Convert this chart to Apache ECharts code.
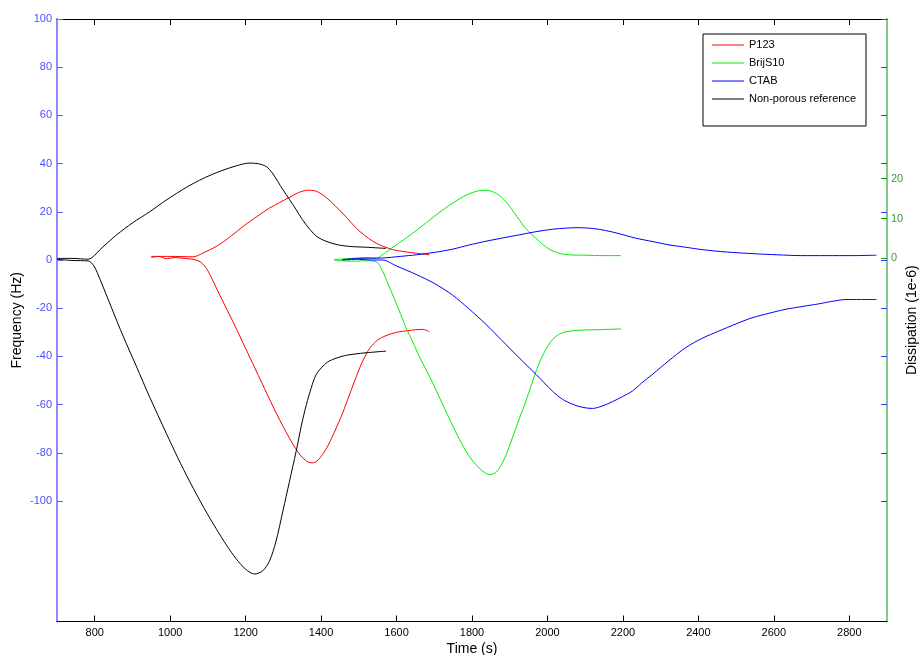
<!DOCTYPE html>
<html>
<head>
<meta charset="utf-8">
<script src="https://cdn.jsdelivr.net/npm/echarts@6/dist/echarts.min.js"></script>
<style>
html,body{margin:0;padding:0;background:#fff;}
#c{width:921px;height:655px;}
</style>
</head>
<body>
<div id="c"></div>
<script>
// ---- tick labels ----
var xTicks = [800,1000,1200,1400,1600,1800,2000,2200,2400,2600,2800];
var freqTicks = [-100,-80,-60,-40,-20,0,20,40,60,80,100];
var dissTicks = [0,10,20];
var legendNames = ['P123','BrijS10','CTAB','Non-porous reference'];

// ---- data: [time (s), value] ----
// Frequency (Hz), left axis
var refFreq = [[700,0.3],[740,-0.2],[783,-0.4],[798,-2.5],[814,-8],[845,-20],[875,-31.5],[910,-44],[946,-57],[990,-72],[1020,-82],[1052,-92],[1090,-103],[1122,-111.5],[1150,-118.5],[1175,-124],[1200,-128.3],[1224,-130.3],[1245,-129],[1263,-125],[1280,-117],[1299,-104],[1316,-92],[1334,-79.3],[1348,-68.5],[1361,-60],[1374,-53],[1387,-47.5],[1405,-44],[1422,-41.9],[1457,-39.9],[1490,-39],[1519,-38.5],[1572,-37.8]];
var p123Freq = [[950,1],[970,1.5],[990,0.5],[1010,1],[1030,0.8],[1050,0.5],[1061,0.3],[1080,-0.8],[1096,-3.5],[1110,-7.5],[1125,-12.5],[1166,-25.5],[1219,-43],[1281,-63.5],[1320,-75],[1345,-81],[1365,-83.8],[1378,-84.2],[1392,-83],[1413,-78.5],[1435,-71.5],[1457,-63.5],[1475,-56],[1493,-48.5],[1510,-42],[1528,-36.8],[1550,-33.2],[1572,-31.4],[1600,-30],[1630,-29.3],[1669,-28.8],[1680,-29.2],[1687,-29.8]];
var brijFreq = [[1435,0],[1480,-0.5],[1520,-0.3],[1546,-0.7],[1563,-4.6],[1575,-9],[1590,-14.5],[1607,-21],[1625,-28],[1643,-34],[1660,-39.9],[1678,-45.5],[1696,-51],[1718,-58.5],[1740,-65.8],[1762,-73],[1784,-79.3],[1800,-83],[1819,-86.3],[1832,-88],[1846,-89],[1860,-88.5],[1872,-86.5],[1890,-81],[1907,-73.8],[1925,-66],[1943,-58.5],[1956,-52.5],[1969,-46.5],[1986,-40],[2004,-35],[2020,-32],[2039,-30.2],[2060,-29.5],[2084,-29.1],[2140,-28.9],[2195,-28.6]];
var ctabFreq = [[1457,0],[1500,0.3],[1530,0],[1563,0],[1600,-2.5],[1652,-6],[1700,-9.7],[1748,-14.5],[1790,-20],[1837,-26.7],[1880,-33.5],[1925,-40.6],[1970,-47.5],[2013,-54.4],[2040,-57.8],[2066,-59.8],[2092,-61.1],[2119,-61.6],[2145,-60.6],[2172,-58.8],[2200,-56.6],[2225,-54.4],[2250,-51],[2278,-47.5],[2320,-42],[2366,-36.4],[2410,-32.5],[2454,-29.5],[2500,-26.5],[2542,-24],[2590,-22],[2630,-20.5],[2675,-19.3],[2719,-18.2],[2760,-17],[2789,-16.4],[2830,-16.4],[2872,-16.4]];
// Dissipation (1e-6), right axis
var refDiss = [[700,0],[740,0],[783,-0.2],[800,0.8],[814,2.2],[835,4],[858,5.9],[900,8.9],[946,11.7],[980,14],[1017,16.3],[1050,18.2],[1078,19.6],[1110,21],[1140,22.1],[1175,23.2],[1211,23.9],[1235,23.7],[1255,23],[1270,21.5],[1285,19.3],[1299,17.2],[1316,14.8],[1334,12.2],[1350,9.8],[1369,7.4],[1390,5.4],[1413,4.3],[1440,3.5],[1475,3],[1520,2.8],[1572,2.5]];
var p123Diss = [[950,0.5],[1000,0.5],[1061,0.4],[1090,1.5],[1122,3],[1160,5.5],[1193,8],[1230,10.5],[1263,12.6],[1290,14],[1316,15.3],[1340,16.5],[1365,17.1],[1385,16.9],[1405,15.9],[1425,14.3],[1449,12.1],[1470,10],[1493,7.6],[1515,5.8],[1537,4.3],[1560,3.2],[1590,2.2],[1620,1.7],[1652,1.3],[1687,0.9]];
var brijDiss = [[1435,-0.3],[1480,0],[1520,0.2],[1546,0.1],[1575,1.8],[1607,3.9],[1640,6.1],[1669,8.2],[1690,9.8],[1713,11.5],[1740,13.3],[1766,14.9],[1790,16.1],[1815,16.9],[1837,17.1],[1860,16.5],[1881,15.1],[1900,13],[1925,9.7],[1945,7.2],[1969,5.1],[1990,3.3],[2013,1.9],[2035,1.2],[2057,0.9],[2100,0.8],[2150,0.7],[2195,0.7]];
var ctabDiss = [[1457,-0.3],[1500,0],[1563,0.1],[1610,0.5],[1652,0.9],[1700,1.5],[1748,2.3],[1790,3.3],[1837,4.3],[1880,5.1],[1925,5.9],[1970,6.7],[2013,7.3],[2050,7.6],[2084,7.7],[2120,7.5],[2154,7.0],[2190,6.2],[2233,5.1],[2280,4.2],[2322,3.4],[2366,2.8],[2410,2.2],[2475,1.6],[2542,1.2],[2610,0.9],[2674,0.7],[2740,0.7],[2807,0.7],[2872,0.8]];

var FONT = 'Liberation Sans, Arial, sans-serif';

function line(name, data, color, yIdx) {
  return {
    type: 'line', name: name, data: data, xAxisIndex: 0, yAxisIndex: yIdx,
    symbol: 'none', showSymbol: false, smooth: 0.3,
    lineStyle: {color: color, width: 1}, itemStyle: {color: color},
    emphasis: {disabled: true}, animation: false
  };
}
function plain(v) { return String(v); }

var chart = echarts.init(document.getElementById('c'), null, {renderer: 'canvas'});
chart.setOption({
  backgroundColor: '#fff',
  animation: false,
  grid: {left: 57, right: 34, top: 19, bottom: 33.5, containLabel: false, outerBoundsMode: 'none'},
  legend: {
    data: legendNames,
    orient: 'vertical',
    left: 703, top: 34,
    padding: [4, 10, 20, 9],
    icon: 'rect',
    itemWidth: 32, itemHeight: 1, itemGap: 4,
    backgroundColor: '#fff', borderColor: '#000', borderWidth: 1,
    textStyle: {fontFamily: FONT, fontSize: 11, color: '#000', lineHeight: 14},
    selectedMode: false
  },
  xAxis: [
    {
      type: 'value', position: 'bottom', min: 700, max: 2900,
      name: 'Time (s)', nameLocation: 'middle', nameGap: 21, nameMoveOverlap: false,
      nameTextStyle: {fontFamily: FONT, fontSize: 14, color: '#000'},
      axisLine: {show: true, onZero: false, lineStyle: {color: '#000', width: 1}},
      axisTick: {show: true, inside: true, length: 6, customValues: xTicks, lineStyle: {color: '#000'}},
      axisLabel: {show: true, customValues: xTicks, formatter: plain, margin: 6, fontFamily: FONT, fontSize: 11, color: '#000'},
      splitLine: {show: false}
    },
    {
      type: 'value', position: 'top', min: 700, max: 2900,
      axisLine: {show: true, onZero: false, lineStyle: {color: '#000', width: 1}},
      axisTick: {show: true, inside: true, length: 6, customValues: xTicks, lineStyle: {color: '#000'}},
      axisLabel: {show: false},
      splitLine: {show: false}
    }
  ],
  yAxis: [
    {
      type: 'value', position: 'left', min: -150, max: 100,
      name: 'Frequency (Hz)', nameLocation: 'middle', nameGap: 33, nameRotate: 90, nameMoveOverlap: false,
      nameTextStyle: {fontFamily: FONT, fontSize: 14, color: '#000'},
      axisLine: {show: true, onZero: false, lineStyle: {color: '#8c8cff', width: 2}},
      axisTick: {show: true, inside: true, length: 6, customValues: freqTicks, lineStyle: {color: '#6464ff'}},
      axisLabel: {show: true, customValues: freqTicks, formatter: plain, margin: 5, fontFamily: FONT, fontSize: 11, color: '#4d4dff'},
      splitLine: {show: false}
    },
    {
      type: 'value', position: 'right', min: -91, max: 60,
      name: 'Dissipation (1e-6)', nameLocation: 'middle', nameGap: 18, nameRotate: 90, nameMoveOverlap: false,
      nameTextStyle: {fontFamily: FONT, fontSize: 14, color: '#000'},
      axisLine: {show: true, onZero: false, lineStyle: {color: '#7fce7f', width: 2}},
      axisTick: {show: true, inside: true, length: 6, customValues: dissTicks, lineStyle: {color: '#109a10'}},
      axisLabel: {show: true, customValues: dissTicks, formatter: plain, margin: 4, fontFamily: FONT, fontSize: 11, color: '#3a9a3a'},
      splitLine: {show: false}
    },
    {
      type: 'value', position: 'right', offset: 0, min: -150, max: 100,
      axisLine: {show: false, onZero: false},
      axisTick: {show: true, inside: true, length: 6, customValues: freqTicks, lineStyle: {color: '#3333ff'}},
      axisLabel: {show: false},
      splitLine: {show: false}
    }
  ],
  series: [
    line('P123', p123Diss, '#ff0000', 1),
    line('P123', p123Freq, '#ff0000', 0),
    line('BrijS10', brijDiss, '#00ee00', 1),
    line('BrijS10', brijFreq, '#00ee00', 0),
    line('CTAB', ctabDiss, '#0000ff', 1),
    line('CTAB', ctabFreq, '#0000ff', 0),
    line('Non-porous reference', refDiss, '#000000', 1),
    line('Non-porous reference', refFreq, '#000000', 0)
  ]
});
</script>
</body>
</html>
